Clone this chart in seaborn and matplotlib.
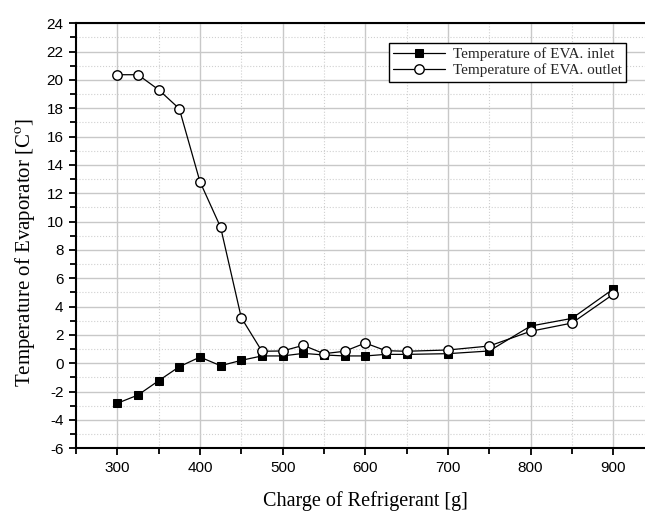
import matplotlib
matplotlib.use("Agg")
import matplotlib.pyplot as plt
from matplotlib.ticker import MultipleLocator
import pandas as pd
import seaborn as sns

# Données
charge_g = [300, 325, 350, 375, 400, 425, 450, 475, 500, 525, 550, 575,
            600, 625, 650, 700, 750, 800, 850, 900]
temp_inlet = [-2.82, -2.24, -1.23, -0.24, 0.44, -0.17, 0.21, 0.52, 0.52, 0.70,
              0.59, 0.52, 0.52, 0.63, 0.63, 0.68, 0.87, 2.63, 3.17, 5.24]
temp_outlet = [20.37, 20.37, 19.31, 17.97, 12.82, 9.60, 3.22, 0.85, 0.87, 1.27,
               0.68, 0.85, 1.43, 0.89, 0.85, 0.94, 1.22, 2.26, 2.84, 4.87]
label_inlet = "Temperature of EVA. inlet"
label_outlet = "Temperature of EVA. outlet"

df = pd.DataFrame({"charge": charge_g, "inlet": temp_inlet, "outlet": temp_outlet})

sns.set_theme(style="ticks")
plt.rcParams["font.family"] = ["Liberation Sans", "DejaVu Sans"]
plt.rcParams["mathtext.fontset"] = "stix"
plt.rcParams["axes.unicode_minus"] = False

fig = plt.figure(figsize=(6.45, 5.13), dpi=100)
ax = fig.add_axes([0.1178, 0.1261, 0.897, 0.8285])

sns.lineplot(data=df, x="charge", y="inlet", ax=ax, color="black", lw=0.9,
             marker="s", markersize=6, markerfacecolor="black",
             markeredgecolor="black", label=label_inlet, zorder=3)
sns.lineplot(data=df, x="charge", y="outlet", ax=ax, color="black", lw=0.9,
             marker="o", markersize=6.8, markerfacecolor="white",
             markeredgecolor="black", markeredgewidth=1.0,
             label=label_outlet, zorder=4)

ax.set_xlim(250, 950)
ax.set_ylim(-6, 24)
ax.xaxis.set_major_locator(MultipleLocator(100))
ax.xaxis.set_minor_locator(MultipleLocator(50))
ax.yaxis.set_major_locator(MultipleLocator(2))
ax.yaxis.set_minor_locator(MultipleLocator(1))

ax.grid(which="major", color="#c8c8c8", lw=1.0, ls="-")
ax.grid(which="minor", color="#d0d0d0", lw=0.8, ls=":")
ax.set_axisbelow(True)

for side in ["left", "bottom", "top"]:
    ax.spines[side].set_color("black")
    ax.spines[side].set_linewidth(1.5)
ax.spines["right"].set_visible(False)

ax.tick_params(which="major", direction="out", length=5, width=1.3,
               colors="black", labelsize=11, pad=4)
ax.tick_params(which="minor", direction="out", length=4, width=1.3,
               colors="black")
ax.tick_params(axis="x", which="both", top=False)

ax.set_xlabel("Charge of Refrigerant [g]", family="Liberation Serif",
              fontsize=14.5, color="black")
ax.set_ylabel(r"Temperature of Evaporator [C$^{\rm o}$]",
              family="Liberation Serif", fontsize=15, color="black")
ax.xaxis.set_label_coords(0.5, -0.1)
ax.yaxis.set_label_coords(-0.068, 0.46)

leg = ax.legend(loc="upper right", bbox_to_anchor=(0.951, 0.9536),
                prop={"family": "Liberation Serif", "size": 11},
                frameon=True, fancybox=False, edgecolor="black",
                framealpha=1, borderpad=0.3, handlelength=3.4,
                handletextpad=0.5, labelspacing=0.15, borderaxespad=0)
leg.get_frame().set_linewidth(1.0)

plt.savefig("out.png", dpi=100)
plt.close()
